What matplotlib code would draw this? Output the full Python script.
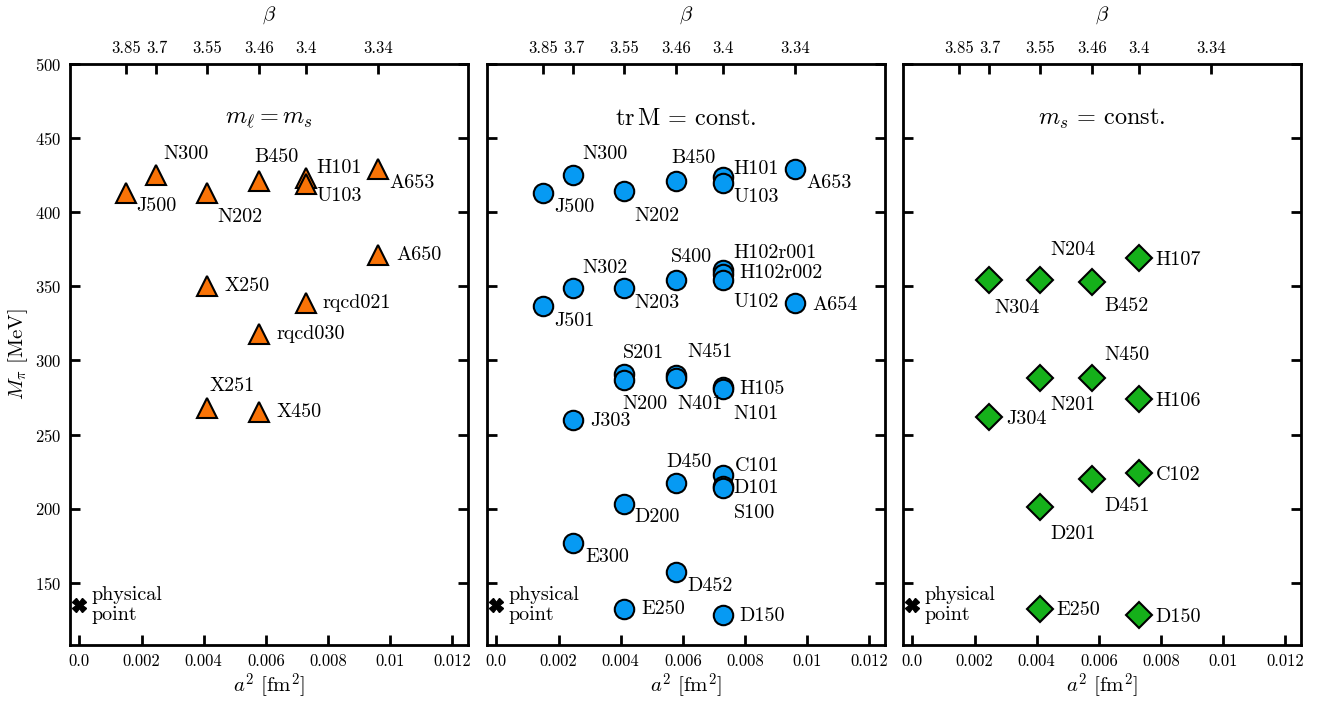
import matplotlib
matplotlib.use('Agg')
import matplotlib.pyplot as plt

plt.rcParams['font.family'] = 'serif'
plt.rcParams['font.serif'] = ['cmr10']
plt.rcParams['mathtext.fontset'] = 'cm'
plt.rcParams['axes.formatter.use_mathtext'] = True
plt.rcParams['axes.unicode_minus'] = False

################################################################################
# Data.                                                                        #
################################################################################

# lattice spacing squared per beta
betas = ['3.85', '3.7', '3.55', '3.46', '3.4', '3.34']
a2_beta = [0.00149, 0.00248, 0.00410, 0.00578, 0.00728, 0.00962]

# m_l = m_s
sym_names = ['J500', 'N300', 'N202', 'B450', 'H101', 'U103', 'A653', 'A650',
             'X250', 'rqcd021', 'rqcd030', 'X251', 'X450']
sym_a2 = [0.00149, 0.00248, 0.00410, 0.00578, 0.00728, 0.00728, 0.00962, 0.00962,
          0.00410, 0.00728, 0.00578, 0.00410, 0.00578]
sym_mpi = [413, 425, 413, 421, 423, 419, 429, 371,
           350, 339, 318, 268, 265]

# tr M = const.
trm_names = ['J500', 'N300', 'N202', 'B450', 'H101', 'U103', 'A653',
             'S400', 'H102r001', 'H102r002', 'U102', 'A654', 'N302', 'N203', 'J501',
             'S201', 'N200', 'N451', 'N401', 'H105', 'N101', 'J303',
             'D450', 'C101', 'D101', 'S100', 'D200', 'E300', 'D452', 'E250', 'D150']
trm_a2 = [0.00149, 0.00248, 0.00410, 0.00578, 0.00728, 0.00728, 0.00962,
          0.00578, 0.00728, 0.00728, 0.00728, 0.00962, 0.00248, 0.00410, 0.00149,
          0.00410, 0.00410, 0.00578, 0.00578, 0.00728, 0.00728, 0.00248,
          0.00578, 0.00728, 0.00728, 0.00728, 0.00410, 0.00248, 0.00578, 0.00410, 0.00728]
trm_mpi = [413, 425, 414, 421, 424, 420, 429,
           354, 361, 358, 354, 339, 349, 349, 337,
           291, 287, 290, 288, 282, 281, 260,
           217, 223, 215, 214, 203, 177, 157, 132, 128]

# m_s = const.
ms_names = ['N304', 'N204', 'B452', 'H107', 'N201', 'N450', 'H106', 'J304',
            'C102', 'D451', 'D201', 'E250', 'D150']
ms_a2 = [0.00248, 0.00410, 0.00578, 0.00728, 0.00410, 0.00578, 0.00728, 0.00248,
         0.00728, 0.00578, 0.00410, 0.00410, 0.00728]
ms_mpi = [354, 354, 353, 369, 288, 288, 274, 262,
          224, 220, 201, 132, 128]

phys_a2 = 0.0
phys_mpi = 135

################################################################################
# Label offsets (pixels from marker centre).                                   #
################################################################################

sym_off = [(11, -13), (7, 21), (11, -24), (-5, 24), (11, 10), (11, -12), (11, -14), (18, 0),
           (18, 0), (17, 0), (17, 0), (3, 22), (17, 0)]
trm_off = [(12, -14), (9, 21), (11, -25), (-5, 23), (11, 8), (11, -14), (11, -14),
           (-5, 23), (11, 17), (17, 1), (11, -22), (17, -2), (9, 20), (11, -15), (12, -15),
           (-1, 21), (-1, -24), (11, 23), (1, -26), (17, -2), (11, -25), (17, -1),
           (-10, 21), (12, 9), (11, -2), (11, -25), (11, -13), (12, -14), (11, -14), (18, 0), (17, -1)]
ms_off = [(5, -28), (11, 30), (12, -24), (17, -2), (11, -27), (12, 23), (17, -2), (17, -2),
          (17, -2), (12, -27), (11, -27), (17, -1), (17, -2)]

################################################################################
# Plot.                                                                        #
################################################################################

fig = plt.figure(figsize=(13.31, 7.04), dpi=100)

panels = [
  (sym_names, sym_a2, sym_mpi, sym_off, '^', '#f97306', 14.5, r'$m_\ell = m_s$'),
  (trm_names, trm_a2, trm_mpi, trm_off, 'o', '#069af3', 14, r'$\mathrm{tr}\,\mathrm{M}\, =\, \mathrm{const.}$'),
  (ms_names, ms_a2, ms_mpi, ms_off, 'D', '#15b01a', 13.5, r'$m_s\, =\, \mathrm{const.}$'),
]
lefts = [70, 487, 903]

for k, (names, a2, mpi, off, mk, col, ms, title) in enumerate(panels):
  ax = fig.add_axes([lefts[k]/1331, 59/704, 398/1331, 581/704])

  ax.plot(a2, mpi, ls='none', marker=mk, ms=ms, mfc=col, mec='k', mew=1.5, zorder=3)
  for n, x, y, (dx, dy) in zip(names, a2, mpi, off):
    ax.annotate(n, (x, y), xytext=(dx, dy), textcoords='offset pixels',
                ha='left', va='center', fontsize=14.5)

  # physical point
  ax.plot(phys_a2, phys_mpi, ls='none', marker='X', ms=10, mfc='k', mec='k', zorder=3)
  ax.annotate('physical\npoint', (phys_a2, phys_mpi), xytext=(12, 0), textcoords='offset pixels',
              ha='left', va='center', fontsize=14.5, linespacing=1.1)

  ax.text(0.5, 0.905, title, transform=ax.transAxes, ha='center', va='center', fontsize=17.5)

  ax.set_xlim(-0.0003, 0.0125)
  ax.set_ylim(108, 500)
  ax.set_xticks([0.0, 0.002, 0.004, 0.006, 0.008, 0.01, 0.012])
  ax.set_xticklabels(['0.0', '0.002', '0.004', '0.006', '0.008', '0.01', '0.012'])
  ax.set_yticks(range(150, 501, 50))
  ax.tick_params(direction='in', length=7, width=2, labelsize=12, right=True, pad=6)
  if k > 0: ax.set_yticklabels([])
  else: ax.set_ylabel(r'$M_\pi$ [MeV]', fontsize=15, labelpad=4)
  ax.set_xlabel(r'$a^2$ [fm$^2$]', fontsize=15, labelpad=2)
  for s in ax.spines.values(): s.set_linewidth(2)

  # beta axis on top
  tx = ax.twiny()
  tx.set_xlim(ax.get_xlim())
  tx.set_xticks(a2_beta)
  tx.set_xticklabels(betas)
  tx.tick_params(direction='in', length=7, width=2, labelsize=12, pad=6)
  tx.set_xlabel(r'$\beta$', fontsize=15, labelpad=15)

fig.savefig('out.png', dpi=100)
plt.close()
